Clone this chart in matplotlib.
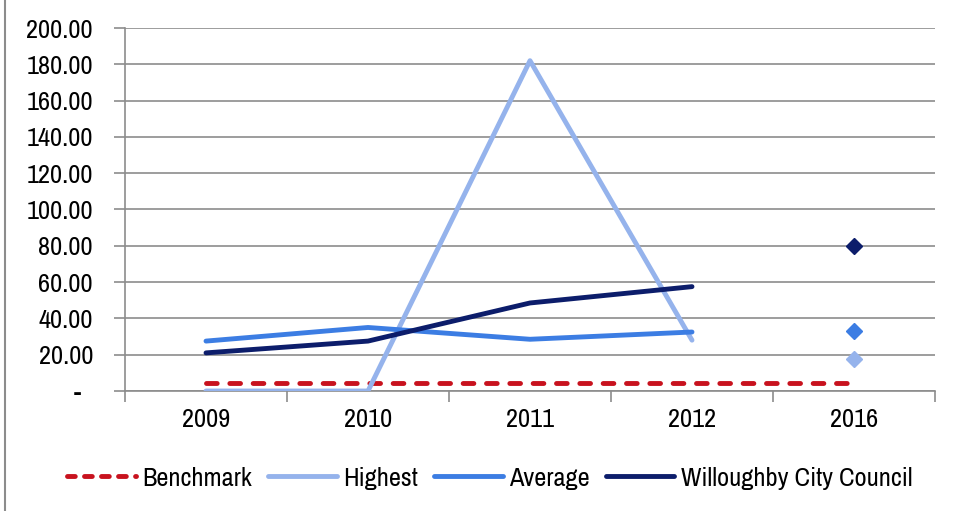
import matplotlib
matplotlib.use("Agg")
import matplotlib.pyplot as plt
from matplotlib.ticker import FuncFormatter
from matplotlib.lines import Line2D

categories = ["2009", "2010", "2011", "2012", "2016"]
benchmark = [4.2, 4.2, 4.2, 4.2, 4.2]
highest = [0, 0, 182, 28]
average = [27.5, 35, 28.5, 32.5]
willoughby = [21, 27.5, 48.5, 57.5]
highest_2016 = 17.5
average_2016 = 33
willoughby_2016 = 80

c_bench = "#C8121E"
c_high = "#95B3EC"
c_avg = "#3C7DE3"
c_will = "#0C1D6B"

plt.rcParams['font.family'] = ['Archivo Narrow', 'Roboto Condensed', 'Liberation Sans', 'DejaVu Sans']
fs = 19

fig = plt.figure(figsize=(9.56, 5.11), dpi=100)
ax = fig.add_axes([125/956, 1-391/511, 810/956, 363/511])

x = list(range(len(categories)))
lw = 3.5
ax.plot(x, benchmark, color=c_bench, lw=lw, ls=(0, (2.2, 2.6)), dash_capstyle='round', zorder=3)
ax.plot(x[:4], highest, color=c_high, lw=lw, solid_capstyle='round', zorder=3)
ax.plot(x[:4], average, color=c_avg, lw=lw, solid_capstyle='round', zorder=4)
ax.plot(x[:4], willoughby, color=c_will, lw=lw, solid_capstyle='round', zorder=5)
ax.plot([4], [highest_2016], marker='D', color=c_high, ms=8, ls='none', zorder=3)
ax.plot([4], [average_2016], marker='D', color=c_avg, ms=8, ls='none', zorder=4)
ax.plot([4], [willoughby_2016], marker='D', color=c_will, ms=8, ls='none', zorder=5)

ax.set_xlim(-0.5, 4.5)
ax.set_ylim(0, 200)
ax.set_yticks(range(0, 201, 20))
ax.yaxis.set_major_formatter(FuncFormatter(lambda v, p: "-  " if v == 0 else f"{v:.2f}"))
ax.grid(axis='y', color='#8C8C8C', lw=1.2, zorder=0)
ax.set_axisbelow(True)

ax.set_xticks([i - 0.5 for i in range(6)])
ax.set_xticklabels([])
ax.set_xticks(x, minor=True)
ax.set_xticklabels(categories, minor=True)
ax.tick_params(axis='x', which='major', length=8, width=1.2, color='#8C8C8C', direction='out')
ax.tick_params(axis='x', which='minor', length=0, pad=12, labelsize=fs)
ax.tick_params(axis='y', length=8, width=1.2, color='#8C8C8C', direction='out', labelsize=fs, pad=15)

for s in ['top', 'right']:
    ax.spines[s].set_visible(False)
for s in ['left', 'bottom']:
    ax.spines[s].set_color('#8C8C8C')
    ax.spines[s].set_linewidth(1.2)

handles = [
    Line2D([], [], color=c_bench, lw=lw, ls=(0, (1.6, 1.9)), dash_capstyle='round'),
    Line2D([], [], color=c_high, lw=lw, solid_capstyle='round'),
    Line2D([], [], color=c_avg, lw=lw, solid_capstyle='round'),
    Line2D([], [], color=c_will, lw=lw, solid_capstyle='round'),
]
labels = ["Benchmark", "Highest", "Average", "Willoughby City Council"]
fig.legend(handles, labels, loc='center', bbox_to_anchor=(490/956, 1-478/511), ncol=4,
           frameon=False, fontsize=fs, handlelength=2.6, handletextpad=0.25, columnspacing=0.6)

fig.add_artist(Line2D([5/956, 5/956], [0, 1], transform=fig.transFigure, color='#8C8C8C', lw=1.5))

fig.savefig("out.png", dpi=100)
